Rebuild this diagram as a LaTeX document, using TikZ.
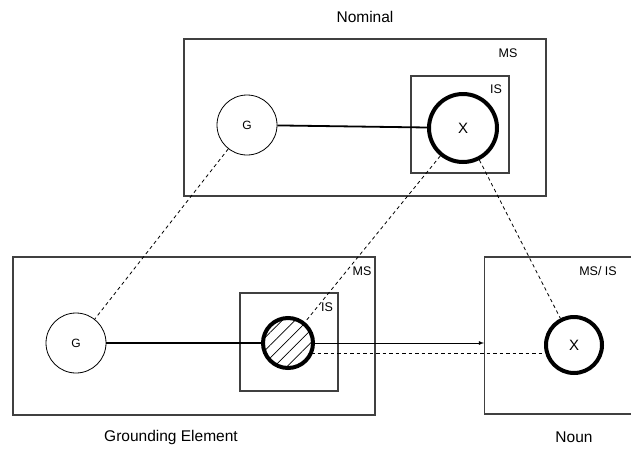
\documentclass[tikz,border=0pt]{standalone}
\usepackage{fontspec}
\setmainfont{Liberation Sans}
\usepackage{tikz}
\usetikzlibrary{arrows,positioning,patterns.meta}

\begin{document}
\begin{tikzpicture}[x=1pt,y=-1pt,>=latex]

\tikzstyle{space} = [draw=black!75, line width=1.1pt, rectangle, inner sep=0pt];
\tikzstyle{entity} = [draw, circle, line width=0.8pt, inner sep=0pt, font={\fontsize{12}{14}\selectfont}];
\tikzstyle{profiled} = [entity, line width=4pt, font={\fontsize{15}{18}\selectfont}];
\tikzstyle{spaceLabel} = [font={\fontsize{12.5}{15}\selectfont}, inner sep=0pt];
\tikzstyle{caption} = [font={\fontsize{15.5}{18}\selectfont}, inner sep=0pt];
\tikzstyle{link} = [black, line width=1.8pt];
\tikzstyle{corr} = [black, line width=0.8pt, dash pattern=on 3.5pt off 3pt];

\useasboundingbox (0,0) rectangle (631,450);

% Nominal
\node[space, name=nomMS, minimum width=362pt, minimum height=157pt] at (365,117.5) {};
\node[space, name=nomIS, minimum width=98pt, minimum height=97pt] at (460,124.5) {};
\node[entity, name=nomG, minimum size=60pt] at (247,125) {G};
\node[profiled, name=nomX, minimum size=68pt] at (463,128) {X};
\node[spaceLabel] at (508,53) {MS};
\node[spaceLabel] at (496,89) {IS};
\node[caption, name=nomCap, above=16pt of nomMS] {Nominal};

% Grounding element
\node[space, name=grMS, minimum width=362pt, minimum height=158pt] at (194,336) {};
\node[space, name=grIS, minimum width=98pt, minimum height=98pt] at (289,342) {};
\node[entity, name=grG, minimum size=60pt] at (76,343) {G};
\node[profiled, name=grX, minimum size=50pt,
      pattern={Lines[angle=45,distance=9pt,line width=0.7pt]}] at (288,343) {};
\node[spaceLabel] at (362,271) {MS};
\node[spaceLabel] at (327,307) {IS};
\node[caption, name=grCap] at (171,437) {Grounding Element};

% Noun (box runs off the right edge)
\node[space, name=nounMS, minimum width=200pt, minimum height=157pt, anchor=west] at (484,335.5) {};
\node[profiled, name=nounX, minimum size=56pt] at (574,345) {X};
\node[spaceLabel] at (598,271) {MS/ IS};
\node[caption, name=nounCap] at (574,437) {Noun};

% profiles and correspondences
\draw[link] (nomG) -- (nomX);
\draw[link] (grG) -- (grX);
\draw[corr] (nomG) -- (grG);
\draw[corr] (nomX) -- (grX);
\draw[corr] (nomX) -- (nounX);
\draw[corr] (grX.-24) -- (grX.-24 -| nounX.west);
\draw[->, line width=0.8pt] (grX.east) -- (grX.east -| nounMS.west);
\end{tikzpicture}
\end{document}
